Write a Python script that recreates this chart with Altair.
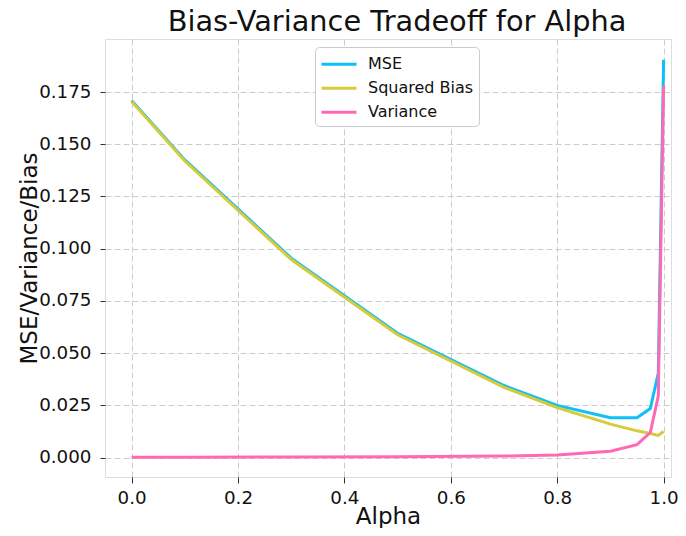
import altair as alt
import pandas as pd

alpha = [0.0, 0.1, 0.3, 0.5, 0.7, 0.8, 0.9, 0.95, 0.975, 0.99, 1.0]
mse = [0.171, 0.1425, 0.0955, 0.0595, 0.0345, 0.0250, 0.0191, 0.0191, 0.0235, 0.0405, 0.1905]
bias = [0.1705, 0.1420, 0.0948, 0.0588, 0.0336, 0.0239, 0.0160, 0.0128, 0.0115, 0.0106, 0.0125]
variance = [0.0002, 0.0002, 0.0003, 0.0004, 0.0007, 0.0012, 0.0030, 0.0062, 0.0120, 0.0295, 0.1780]

series_names = ["MSE", "Squared Bias", "Variance"]
series_colors = ["#0fbff8", "#d6cb3a", "#ff69b4"]
x_ticks = [0.0, 0.2, 0.4, 0.6, 0.8, 1.0]
y_ticks = [0.0, 0.025, 0.05, 0.075, 0.1, 0.125, 0.15, 0.175]

rows = []
for name, vals in zip(series_names, [mse, bias, variance]):
    for a, v in zip(alpha, vals):
        rows.append({"alpha": a, "value": v, "series": name})
df = pd.DataFrame(rows)

FONT = "DejaVu Sans"

x = alt.X("alpha:Q", title="Alpha",
          scale=alt.Scale(domain=[-0.05, 1.0139], nice=False, zero=False),
          axis=alt.Axis(values=x_ticks, format=".1f", labelFontSize=18.3, titleFontSize=23,
                        titleFontWeight="normal", labelColor="#111", titleColor="#111",
                        domain=False, tickSize=6, tickColor="#333", labelPadding=6,
                        titleBaseline="alphabetic", titleY=46,
                        grid=True, gridDash=[6, 3], gridColor="#cccccc",
                        labelFont=FONT, titleFont=FONT))
y = alt.Y("value:Q", title="MSE/Variance/Bias",
          scale=alt.Scale(domain=[-0.0093, 0.2004], nice=False, zero=False),
          axis=alt.Axis(values=y_ticks, format=".3f", labelFontSize=18.3, titleFontSize=23,
                        titleFontWeight="normal", labelColor="#111", titleColor="#111",
                        domain=False, tickSize=5, tickColor="#333", labelPadding=9,
                        titleBaseline="alphabetic", titleX=-69, titleY=219,
                        grid=True, gridDash=[6, 3], gridColor="#cccccc",
                        labelFont=FONT, titleFont=FONT))
color = alt.Color("series:N", title=None,
                  scale=alt.Scale(domain=series_names, range=series_colors),
                  legend=alt.Legend(orient="none", legendX=210, legendY=8,
                                    direction="vertical", fillColor="white",
                                    strokeColor="#cccccc", cornerRadius=4, padding=5.7,
                                    labelFontSize=16, labelFont=FONT, labelColor="#111",
                                    symbolType="M-1.75,0H1.75", symbolSize=400,
                                    symbolOffset=6.8, symbolStrokeWidth=3,
                                    rowPadding=4, labelOffset=17.5))

layers = []
for name in series_names:
    layers.append(
        alt.Chart(df).transform_filter(alt.datum.series == name)
        .mark_line(strokeWidth=3, clip=True)
        .encode(x=x, y=y, color=color)
    )

chart = alt.layer(*layers).properties(
    width=566, height=438,
    title=alt.TitleParams("Bias-Variance Tradeoff for Alpha", fontSize=28.8, font=FONT,
                          fontWeight="normal", color="#111", anchor="middle",
                          offset=2, dx=9),
    autosize=alt.AutoSizeParams(type="none"),
    padding={"left": 97, "top": 31, "right": 7, "bottom": 51},
).configure_view(stroke=None).configure(background="white")

chart.save("out.html", embed_options={"renderer": "svg", "actions": False})
